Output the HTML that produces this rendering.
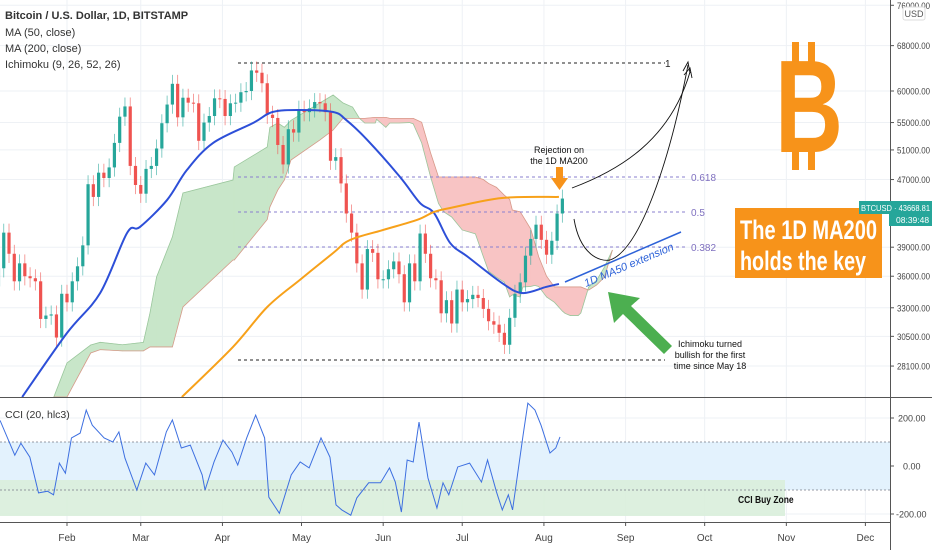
<!DOCTYPE html>
<html><head><meta charset="utf-8"><style>
body{margin:0;background:#fff;}
svg{display:block;font-family:"Liberation Sans",sans-serif;}
</style></head><body>
<svg id="c" width="932" height="550" viewBox="0 0 932 550"></svg>
<script>
// ---------- data ----------
const candleStartDay = 5;
const closes = [36800,40600,38300,35500,37300,36000,35800,35500,32000,32300,32400,30400,34300,33500,35500,37000,39200,46400,44800,47900,47200,48600,52000,55900,57500,48800,46300,45200,48400,48800,51200,54900,57800,61200,55800,58900,58100,58000,52300,55000,56000,58800,58700,56000,58000,58100,59800,60000,63500,63100,61300,56200,55700,51700,49000,54000,53500,57000,56600,57200,58200,58000,56600,49500,50000,46500,42800,40600,37300,34700,38800,38400,35700,35700,36700,37500,36200,33500,37300,35500,40500,38300,35800,35600,32500,33700,31600,34700,33500,33800,34200,33900,32900,31800,31500,30800,29800,32100,34300,35400,38100,39900,41500,39800,38200,39700,42800,44600];
const ma50Days = [14,31,43.6,53.8,58.7,69,76.5,86.4,101.6,109,119.4,132,137,145,157.4,165,170.3,176.4,183.2,196.1,203.7,212.8,217.7];
const ma50Vals = [25800,30780,34370,40560,41240,44430,48250,51980,54930,56620,56940,56620,55380,52410,47330,44050,42860,39460,37960,35330,34370,34950,35240];
const ma200Days = [74.6,94,107,119.4,132,138.4,151,163.8,170.3,176.4,196.1,217.7];
const ma200Vals = [25800,29620,33070,35640,38380,39780,40900,42040,42980,43450,44670,44800];
const cloudDays = [26,31,40,43.6,52,60,62.5,65,71,75,94,94.5,107,108,111,113.5,116,127,132,135.7,139.4,142,144,148,148.5,152,153.5,157,161,162.4,165.6,169,172,174,177,181,186,189,191,194,197,199,200,203,204,207,208.5,210,213,216,219,220,222,225,226,229,232,235,238];
const spanA = [25800,28340,29780,30000,29800,30000,32530,35920,40120,45290,46940,48660,51410,54280,54930,54280,55330,58070,59340,58070,57380,55640,54930,54930,55500,54280,54930,54930,55000,54800,52000,47330,44000,43000,42390,40900,40460,38000,36500,35900,35400,34000,34200,34000,34950,35000,35100,35000,34000,33500,32700,32500,32300,32300,32530,34950,35600,36930,38700];
const spanB = [25800,25800,29130,29400,29300,29300,29620,29620,29620,33070,37650,37650,42100,43570,45660,46940,49600,52420,53880,55640,55640,55640,55640,55790,55790,55790,55640,55640,55640,55640,55040,50570,47330,47330,47330,47330,47330,47000,46500,46000,45000,44500,43210,43000,42500,41000,39500,38000,36000,34950,34950,34950,34950,34950,34950,34650,35140,35920,38700];
const cciDays = [5.6,11.2,13.5,16.9,20.2,23.6,25.9,28.1,30.4,32.7,36,38.3,40.6,45.1,48.4,50.7,53,57.5,60.9,64.2,68.7,71,74.4,77.8,82.3,83.4,86.8,90.2,93.6,95.8,99.2,102.6,106,107.6,111.6,116.1,119.5,122.9,127.4,130.8,133.1,135.3,138.7,141,145.5,150,153.4,155.6,157.9,160.1,162.4,164.6,168,171.4,173.7,175.9,179.3,183.8,188.3,190.6,194,196.2,198.5,200.1,204.1,205.9,208.6,210.9,214.3,216.5,218.1];
const cciVals = [190,45,95,37,-112,-105,-120,12,-30,117,137,233,170,117,100,142,33,-100,12,-37,142,192,75,87,-37,-100,17,108,58,4,117,212,117,-130,-197,-37,17,-8,117,37,-162,-183,-205,-133,-70,-70,-8,-67,-192,25,17,183,-50,-175,-70,-120,-4,12,-67,25,-108,-183,-120,-183,129,262,233,170,54,75,121];
const priceTicks = [68000,60000,55000,51000,47000,39000,36000,33000,30500,28100];
const cciTicks = [200,0,-200];
const months = ["Feb","Mar","Apr","May","Jun","Jul","Aug","Sep","Oct","Nov","Dec"];
const monthDays = [31,59,90,120,151,181,212,243,273,304,334];

// ---------- scales ----------
const X = d => -14.7 + d*2.635;
const Y = p => 91 + (Math.log(60000) - Math.log(p))*362.6;
const CY = v => 466 - v*0.24;
const NS = "http://www.w3.org/2000/svg";
const svg = document.getElementById('c');
function mk(tag, attrs, parent){const e=document.createElementNS(NS,tag);for(const k in attrs)e.setAttribute(k,attrs[k]);(parent||svg).appendChild(e);return e;}
function g(name){const e=mk('g',{});return e;}
function smooth(pts){let d='M'+pts[0][0]+','+pts[0][1];for(let i=0;i<pts.length-1;i++){const p0=pts[Math.max(0,i-1)],p1=pts[i],p2=pts[i+1],p3=pts[Math.min(pts.length-1,i+2)];const c1x=p1[0]+(p2[0]-p0[0])/6,c1y=p1[1]+(p2[1]-p0[1])/6,c2x=p2[0]-(p3[0]-p1[0])/6,c2y=p2[1]-(p3[1]-p1[1])/6;d+=` C${c1x},${c1y} ${c2x},${c2y} ${p2[0]},${p2[1]}`;}return d;}

const defs=mk('defs',{});
const cp=mk('clipPath',{id:'main'},defs);mk('rect',{x:0,y:0,width:890,height:397},cp);
const cp2=mk('clipPath',{id:'cci'},defs);mk('rect',{x:0,y:398,width:890,height:124},cp2);

// grid
const grid=g('grid');
monthDays.forEach(d=>{mk('line',{x1:X(d),x2:X(d),y1:0,y2:522,stroke:'#eef1f5','stroke-width':1},grid);});
priceTicks.concat([76000]).forEach(p=>mk('line',{x1:0,x2:890,y1:Y(p),y2:Y(p),stroke:'#eef1f5'},grid));
cciTicks.forEach(v=>mk('line',{x1:0,x2:890,y1:CY(v),y2:CY(v),stroke:'#eef1f5'},grid));

// cloud
const cloud=g('ichimoku-cloud');cloud.setAttribute('clip-path','url(#main)');
for(let i=0;i<cloudDays.length-1;i++){
  const a0=spanA[i],a1=spanA[i+1],b0=spanB[i],b1=spanB[i+1];
  const bull=(a0+a1)>=(b0+b1);
  const pts=`${X(cloudDays[i])},${Y(a0)} ${X(cloudDays[i+1])},${Y(a1)} ${X(cloudDays[i+1])},${Y(b1)} ${X(cloudDays[i])},${Y(b0)}`;
  const s=mk('polygon',{points:pts,fill:bull?'#c8e6c9':'#f8c4c4',stroke:bull?'#c8e6c9':'#f8c4c4','stroke-width':0.6},cloud);
  
  
}
const pa=mk('polyline',{points:cloudDays.map((d,i)=>X(d)+','+Y(spanA[i])).join(' '),fill:'none',stroke:'#9bc79d','stroke-width':0.8},cloud);

const pb=mk('polyline',{points:cloudDays.map((d,i)=>X(d)+','+Y(spanB[i])).join(' '),fill:'none',stroke:'#d79a8a','stroke-width':0.8},cloud);


// dashed levels
const lv=g('levels');
[[63,'#222'],[360,'#222']].forEach(([y,c])=>mk('line',{x1:238,x2:665,y1:y,y2:y,stroke:c,'stroke-dasharray':'3,3','stroke-width':0.9},lv));
[[177,'0.618'],[212,'0.5'],[247,'0.382']].forEach(([y,t])=>{
  mk('line',{x1:238,x2:685,y1:y,y2:y,stroke:'#8a7fcf','stroke-dasharray':'3,3','stroke-width':0.9},lv);
  const tx=mk('text',{x:691,y:y+4,'font-size':10,fill:'#7e6fbf'},lv);tx.textContent=t;
  
});
const one=mk('text',{x:665,y:67,'font-size':10,fill:'#222'},lv);one.textContent='1';

// candles
const cg=g('candles');cg.setAttribute('clip-path','url(#main)');
closes.forEach((c,i)=>{
  const o=i===0?35000:closes[i-1];
  const d=candleStartDay+i*2, x=X(d);
  const up=c>=o, col=up?'#26a69a':'#ef5350';
  const hi=Math.max(o,c)*1.025, lo=Math.min(o,c)*0.975;
  mk('line',{x1:x,x2:x,y1:Y(hi),y2:Y(lo),stroke:col,'stroke-width':0.8,opacity:0.7},cg);
  const r=mk('rect',{x:x-1.6,y:Y(Math.max(o,c)),width:3.2,height:Math.max(1,Math.abs(Y(o)-Y(c))),fill:col},cg);
  
  
});

// MAs
const ma50=mk('path',{d:smooth(ma50Days.map((d,i)=>[X(d),Y(ma50Vals[i])])),fill:'none',stroke:'#2d4fd8','stroke-width':2,'clip-path':'url(#main)'});

const ma200=mk('path',{d:smooth(ma200Days.map((d,i)=>[X(d),Y(ma200Vals[i])])),fill:'none',stroke:'#f7a11a','stroke-width':2,'clip-path':'url(#main)'});


// CCI pane
const cc=g('cci-pane');cc.setAttribute('clip-path','url(#cci)');
mk('rect',{x:0,y:CY(100),width:890,height:CY(-100)-CY(100),fill:'#e3f2fd'},cc);
mk('rect',{x:0,y:480,width:785,height:36,fill:'#d9eedb',opacity:0.9},cc);
[100,-100].forEach(v=>mk('line',{x1:0,x2:890,y1:CY(v),y2:CY(v),stroke:'#787b86','stroke-dasharray':'2,2','stroke-width':0.8},cc));
const cl=mk('polyline',{points:cciDays.map((d,i)=>X(d)+','+CY(cciVals[i])).join(' '),fill:'none',stroke:'#3d6fe0','stroke-width':1},cc);


// pane borders
mk('line',{x1:0,x2:932,y1:397.5,y2:397.5,stroke:'#555','stroke-width':1});
mk('line',{x1:0,x2:890,y1:522.5,y2:522.5,stroke:'#555','stroke-width':1});
mk('line',{x1:890.5,x2:890.5,y1:0,y2:550,stroke:'#555','stroke-width':1});

// axis labels
const ax=g('price-axis');
priceTicks.concat([76000]).forEach(p=>{mk('line',{x1:890,x2:894,y1:Y(p),y2:Y(p),stroke:'#555'},ax);const t=mk('text',{x:897,y:Y(p)+3.5,'font-size':9,fill:'#444',textLength:33,lengthAdjust:'spacingAndGlyphs'},ax);t.textContent=p.toFixed(2);});
const cax=g('cci-axis');
cciTicks.forEach(v=>{mk('line',{x1:890,x2:894,y1:CY(v),y2:CY(v),stroke:'#555'},cax);const t=mk('text',{x:v<0?896:(v===0?903:898),y:CY(v)+3.5,'font-size':9,fill:'#444'},cax);t.textContent=v.toFixed(2);});
const dax=g('date-axis');
months.forEach((m,i)=>{mk('line',{x1:X(monthDays[i]),x2:X(monthDays[i]),y1:522,y2:526,stroke:'#555'},dax);const t=mk('text',{x:X(monthDays[i]),y:541,'font-size':10,fill:'#444','text-anchor':'middle'},dax);t.textContent=m;});
</script>
<svg width="932" height="550" viewBox="0 0 932 550" style="position:absolute;left:0;top:0">
  <rect x="903" y="7" width="22" height="13" fill="#fff" stroke="#ddd" rx="2"/>
  <text x="914" y="17" font-size="9" fill="#555" text-anchor="middle" font-family="Liberation Sans">USD</text>
  <g font-family="Liberation Sans, sans-serif" fill="#333">
    <text x="5" y="19" font-size="11" font-weight="bold">Bitcoin / U.S. Dollar, 1D, BITSTAMP</text>
    <text x="5" y="36" font-size="11">MA (50, close)</text>
    <text x="5" y="52" font-size="11">MA (200, close)</text>
    <text x="5" y="68" font-size="11">Ichimoku (9, 26, 52, 26)</text>
    <text x="5" y="418" font-size="10.5">CCI (20, hlc3)</text>
  </g>
  <text x="738" y="503" font-size="10" font-weight="bold" fill="#111" font-family="Liberation Sans" transform="translate(738 503) scale(0.85 1) translate(-738 -503)">CCI Buy Zone</text>
  <g fill="#f7931a">
    <rect x="792" y="42" width="7" height="20"/><rect x="808" y="42" width="7" height="20"/>
    <rect x="792" y="148" width="7" height="22"/><rect x="808" y="148" width="7" height="22"/>
    <text x="775" y="152" font-size="132" font-weight="bold" font-family="Liberation Sans" textLength="68" lengthAdjust="spacingAndGlyphs">B</text>
  </g>
  <rect x="735" y="208" width="147" height="70" fill="#f7931a"/>
  <g fill="#fff" font-family="Liberation Sans Narrow, Liberation Sans, sans-serif" font-weight="bold" font-size="27">
    <text x="740" y="239" textLength="137" lengthAdjust="spacingAndGlyphs">The 1D MA200</text>
    <text x="740" y="270" textLength="126" lengthAdjust="spacingAndGlyphs">holds the key</text>
  </g>
  <rect x="859" y="201" width="73" height="13" fill="#26a69a"/>
  <rect x="889" y="214" width="43" height="12" fill="#26a69a"/>
  <text x="861" y="211" font-size="8.5" fill="#fff" font-family="Liberation Sans" textLength="69" lengthAdjust="spacingAndGlyphs">BTCUSD · 43668.81</text>
  <text x="896" y="223" font-size="8.5" fill="#fff" font-family="Liberation Sans">08:39:48</text>
  <g font-family="Liberation Sans" font-size="9" fill="#111" text-anchor="middle">
    <text x="559" y="153">Rejection on</text><text x="559" y="164">the 1D MA200</text>
  </g>
  <polygon points="556,167 563,167 563,178 568,178 559.5,190 551,178 556,178" fill="#f7931a"/>
  <path d="M572,188 C620,170 670,140 690,72" fill="none" stroke="#111" stroke-width="0.9"/>
  <path d="M684,75 L690,68 L692,78" fill="none" stroke="#111" stroke-width="0.9"/>
  <path d="M574,219 C580,255 600,262 610,260 C640,250 670,160 688,65" fill="none" stroke="#111" stroke-width="0.9"/>
  <path d="M683,71 L688,62 L690,73" fill="none" stroke="#111" stroke-width="0.9"/>
  <line x1="565" y1="282" x2="681" y2="232" stroke="#2d62d8" stroke-width="1.5"/>
  <text x="586" y="287" font-size="11" font-style="italic" fill="#2d62d8" font-family="Liberation Sans" transform="rotate(-23 586 287)">1D MA50 extension</text>
  <polygon points="608,292 640,298 631,306 672,346 664,354 623,314 614,323" fill="#4caf50"/>
  <g font-family="Liberation Sans" font-size="9" fill="#111" text-anchor="middle">
    <text x="710" y="347">Ichimoku turned</text><text x="710" y="358">bullish for the first</text><text x="710" y="369">time since May 18</text>
  </g>
</svg>
</body></html>
